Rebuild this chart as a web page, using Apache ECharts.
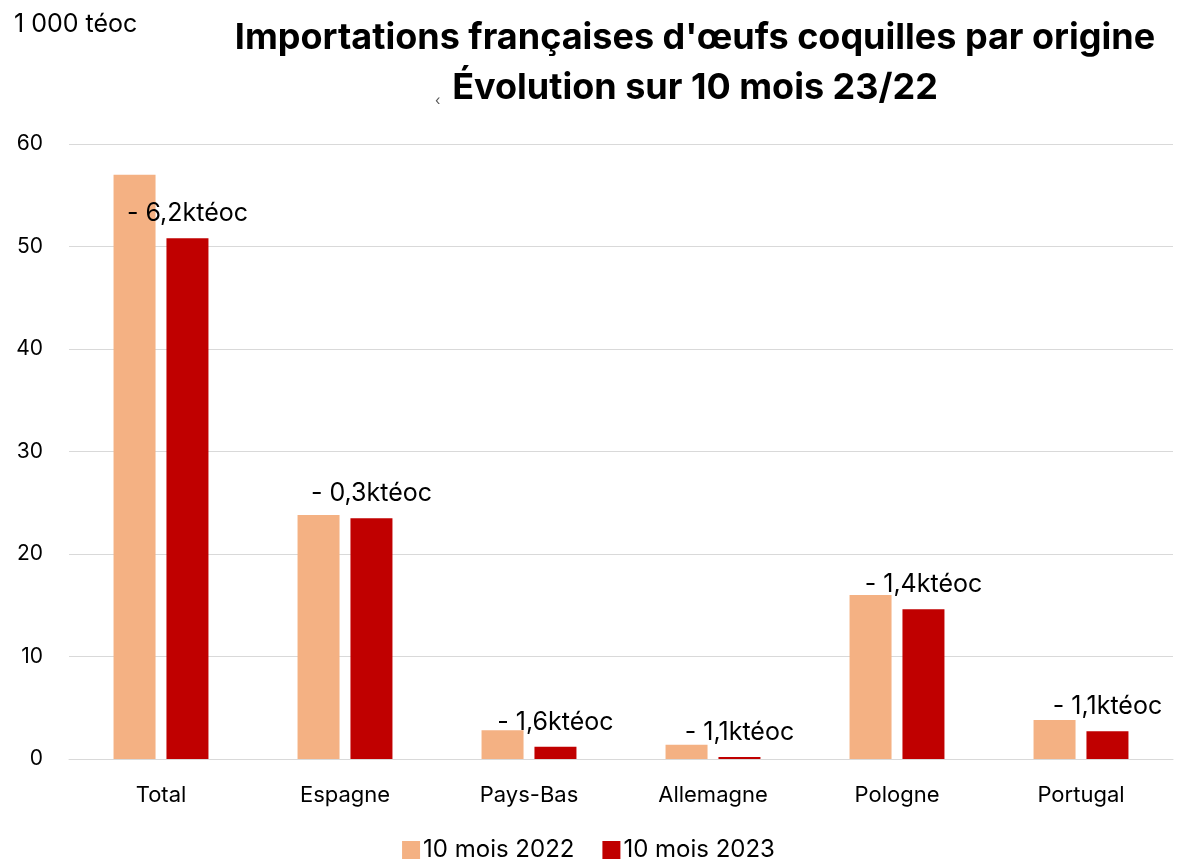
<!DOCTYPE html>
<html>
<head>
<meta charset="utf-8">
<script src="https://cdn.jsdelivr.net/npm/echarts@6/dist/echarts.min.js"></script>
<style>
  html, body { margin: 0; padding: 0; background: #fff; }
  #chart { width: 1177px; height: 861px; }
</style>
</head>
<body>
<div id="chart"></div>
<script>
// origines
const categories = ['Total', 'Espagne', 'Pays-Bas', 'Allemagne', 'Pologne', 'Portugal']
// 1 000 téoc
const values2022 = [57.0, 23.8, 2.8, 1.4, 16.0, 3.8]
const values2023 = [50.8, 23.5, 1.2, 0.2, 14.6, 2.7]
const evolLabels = ['- 6,2ktéoc', '- 0,3ktéoc', '- 1,6ktéoc', '- 1,1ktéoc', '- 1,4ktéoc', '- 1,1ktéoc']
const yTicks = [0, 10, 20, 30, 40, 50, 60]

const font = 'Inter, "Open Sans", sans-serif'
const chart = echarts.init(document.getElementById('chart'))

chart.setOption({
  animation: false,
  textStyle: { fontFamily: font },
  title: {
    text: "Importations françaises d'œufs coquilles par origine\nÉvolution sur 10 mois 23/22",
    left: 690,
    top: 8,
    textAlign: 'center',
    textStyle: {
      fontFamily: font,
      fontSize: 36,
      fontWeight: 'bold',
      color: '#000',
      lineHeight: 50
    }
  },
  graphic: [
    {
      type: 'text',
      left: 14,
      top: 12,
      style: { text: '1 000 téoc', fontFamily: font, fontSize: 25, fill: '#000' }
    },
    {
      type: 'text',
      left: 435,
      top: 94,
      style: { text: '‹', fontFamily: font, fontSize: 14, fill: '#555' }
    }
  ],
  legend: {
    bottom: -6,
    left: 'center',
    itemWidth: 18,
    itemHeight: 18,
    itemGap: 28,
    icon: 'rect',
    textStyle: { fontFamily: font, fontSize: 24, color: '#000', padding: [0, 0, 0, -2] },
    data: ['10 mois 2022', '10 mois 2023']
  },
  grid: {
    left: 69,
    right: 4,
    top: 144,
    bottom: 102,
    containLabel: false
  },
  xAxis: {
    type: 'category',
    data: categories,
    axisTick: { show: false },
    axisLine: { lineStyle: { color: '#d9d9d9', width: 1 } },
    axisLabel: { fontFamily: font, fontSize: 22, color: '#000', margin: 25 }
  },
  yAxis: {
    type: 'value',
    min: yTicks[0],
    max: yTicks[yTicks.length - 1],
    interval: 10,
    axisLine: { show: false },
    axisTick: { show: false },
    splitLine: { lineStyle: { color: '#d9d9d9', width: 1 } },
    axisLabel: { fontFamily: font, fontSize: 21, color: '#000', margin: 26 }
  },
  series: [
    {
      name: '10 mois 2022',
      type: 'bar',
      data: values2022,
      barWidth: 42,
      barGap: '26%',
      itemStyle: { color: '#F4B183' }
    },
    {
      name: '10 mois 2023',
      type: 'bar',
      data: values2023,
      barWidth: 42,
      itemStyle: { color: '#C00000' },
      label: {
        show: true,
        position: 'top',
        distance: 12,
        fontFamily: font,
        fontSize: 25,
        color: '#000',
        formatter(p) {
          return evolLabels[p.dataIndex]
        }
      }
    }
  ]
})
</script>
</body>
</html>
